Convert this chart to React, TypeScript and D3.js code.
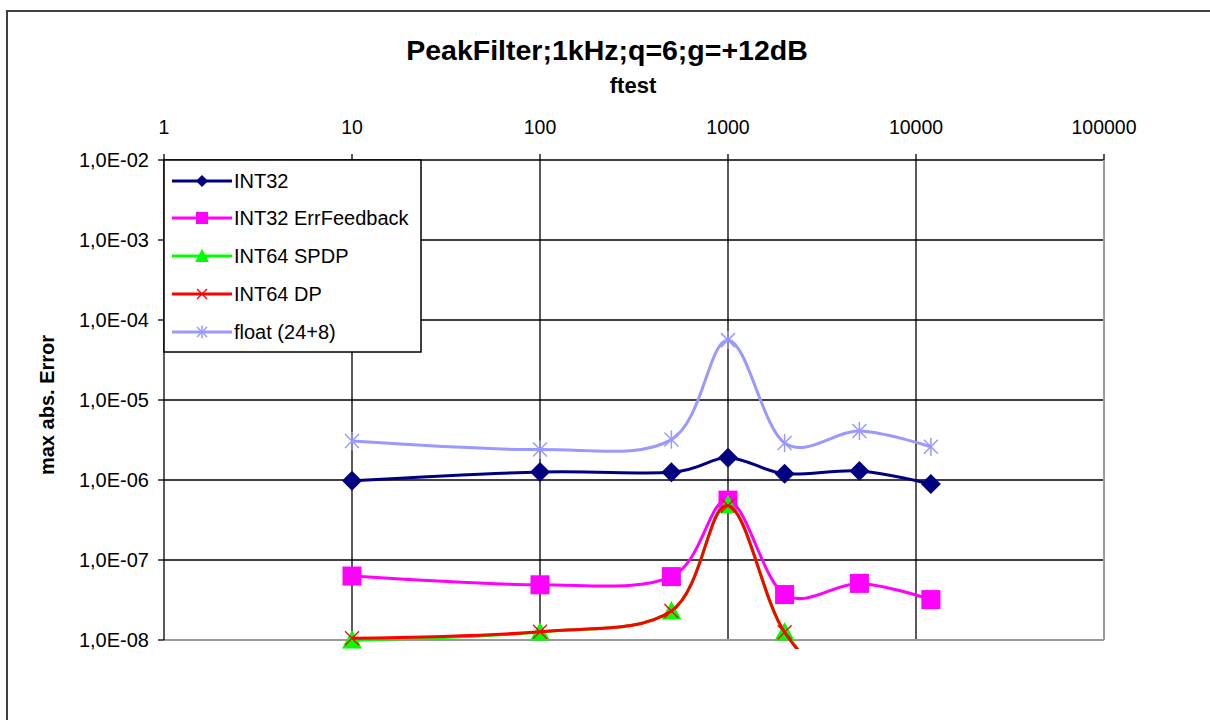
import React from "react";
import * as d3 from "d3";

const ftest = [10, 100, 500, 1000, 2000, 5000, 12000];
const int32 = [0.98e-6, 1.26e-6, 1.25e-6, 1.9e-6, 1.2e-6, 1.3e-6, 0.89e-6];
const int32Err = [6.3e-8, 4.9e-8, 6.2e-8, 5.6e-7, 3.7e-8, 5.1e-8, 3.2e-8];
const int64Spdp = [1.0e-8, 1.26e-8, 2.3e-8, 4.9e-7, 1.26e-8, 2e-9, 2e-9];
const int64Dp = [1.05e-8, 1.27e-8, 2.3e-8, 4.8e-7, 1.25e-8, 1.8e-9, 2e-9];
const float248 = [3.07e-6, 2.4e-6, 3.2e-6, 5.6e-5, 2.9e-6, 4.1e-6, 2.6e-6];

const xTicks = [1, 10, 100, 1000, 10000, 100000];
const xTickLabels = ["1", "10", "100", "1000", "10000", "100000"];
const yTicks = [1e-2, 1e-3, 1e-4, 1e-5, 1e-6, 1e-7, 1e-8];
const yTickLabels = ["1,0E-02", "1,0E-03", "1,0E-04", "1,0E-05", "1,0E-06", "1,0E-07", "1,0E-08"];

const seriesNames = ["INT32", "INT32 ErrFeedback", "INT64 SPDP", "INT64 DP", "float (24+8)"];
const seriesValues = [int32, int32Err, int64Spdp, int64Dp, float248];
const seriesColors = ["#000080", "#FF00FF", "#00FF00", "#FF0000", "#9999FF"];
const seriesMarkers = ["diamond", "square", "triangle", "x", "star"];

const FONT = "'Liberation Sans', Arial, sans-serif";

function Marker({ type, x, y, color, s }: { type: string; x: number; y: number; color: string; s: number }) {
  if (type === "diamond") {
    return <polygon points={`${x},${y - s} ${x + s},${y} ${x},${y + s} ${x - s},${y}`} fill={color} />;
  }
  if (type === "square") {
    return <rect x={x - s} y={y - s} width={2 * s} height={2 * s} fill={color} />;
  }
  if (type === "triangle") {
    return <polygon points={`${x},${y - s} ${x + s},${y + s * 0.85} ${x - s},${y + s * 0.85}`} fill={color} />;
  }
  if (type === "x") {
    return (
      <g stroke={color} strokeWidth={1.3}>
        <line x1={x - s} y1={y - s} x2={x + s} y2={y + s} />
        <line x1={x - s} y1={y + s} x2={x + s} y2={y - s} />
      </g>
    );
  }
  return (
    <g stroke={color} strokeWidth={1.5}>
      <line x1={x - s} y1={y - s} x2={x + s} y2={y + s} />
      <line x1={x - s} y1={y + s} x2={x + s} y2={y - s} />
      <line x1={x} y1={y - s * 1.3} x2={x} y2={y + s * 1.3} />
    </g>
  );
}

export default function App() {
  const W = 1210;
  const H = 720;
  const left = 164, right = 1104, top = 160, bottom = 640;
  const x = d3.scaleLog().domain([1, 100000]).range([left, right]);
  const y = d3.scaleLog().domain([1e-8, 1e-2]).range([bottom, top]);

  const line = d3
    .line<[number, number]>()
    .x((d) => x(d[0]))
    .y((d) => y(d[1]))
    .curve(d3.curveCatmullRom.alpha(0));

  const markerSizes = [10, 9.5, 10, 7, 7];
  const legendMarkerSizes = [6, 6, 7, 5, 5];
  const legendYs = [181, 218, 256, 294, 332];

  return (
    <svg width={W} height={H} style={{ position: "absolute", left: 0, top: 0 }} fontFamily={FONT}>
      <rect x={0} y={0} width={W} height={H} fill="#fff" />
      <defs>
        <clipPath id="plotClip">
          <rect x={left} y={top - 5} width={right - left} height={bottom - top + 14} />
        </clipPath>
      </defs>
      {/* outer frame */}
      <line x1={6} y1={11} x2={W} y2={11} stroke="#404040" strokeWidth={2} />
      <line x1={7} y1={10} x2={7} y2={H} stroke="#404040" strokeWidth={2} />

      {/* title */}
      <text x={607} y={60} textAnchor="middle" fontSize={28.5} fontWeight="bold" fill="#000">
        PeakFilter;1kHz;q=6;g=+12dB
      </text>
      <text x={633} y={93} textAnchor="middle" fontSize={22} fontWeight="bold" fill="#000">
        ftest
      </text>

      {/* grid */}
      {xTicks.slice(1, -1).map((t) => (
        <line key={"gx" + t} x1={x(t)} x2={x(t)} y1={top} y2={bottom} stroke="#000" strokeWidth={1.3} />
      ))}
      {yTicks.slice(0, -1).map((t) => (
        <line key={"gy" + t} x1={left} x2={right} y1={y(t)} y2={y(t)} stroke="#000" strokeWidth={1.3} />
      ))}
      {/* plot border */}
      <line x1={left} x2={right} y1={bottom} y2={bottom} stroke="#999" strokeWidth={2} />
      <line x1={right} x2={right} y1={top} y2={bottom} stroke="#999" strokeWidth={2} />
      <line x1={left} x2={left} y1={top} y2={bottom} stroke="#000" strokeWidth={1.3} />

      {/* x ticks (top) */}
      {xTicks.map((t, i) => (
        <g key={"xt" + t}>
          <line x1={x(t)} x2={x(t)} y1={top} y2={top - 6} stroke="#000" strokeWidth={1.3} />
          <text x={x(t)} y={134} textAnchor="middle" fontSize={19.5} fill="#000">
            {xTickLabels[i]}
          </text>
        </g>
      ))}
      {/* y ticks */}
      {yTicks.map((t, i) => (
        <g key={"yt" + t}>
          <line x1={left - 6} x2={left} y1={y(t)} y2={y(t)} stroke="#000" strokeWidth={1.3} />
          <text x={149} y={y(t) + 7} textAnchor="end" fontSize={20} fill="#000">
            {yTickLabels[i]}
          </text>
        </g>
      ))}
      <text
        transform={`translate(54,405) rotate(-90)`}
        textAnchor="middle"
        fontSize={20}
        fontWeight="bold"
        fill="#000"
      >
        max abs. Error
      </text>

      {/* series */}
      {seriesValues.map((vals, si) => {
        const pts: [number, number][] = ftest.map((f, i) => [f, vals[i]]);
        return (
          <g key={"s" + si}>
            <path
              d={line(pts) || ""}
              fill="none"
              stroke={seriesColors[si]}
              strokeWidth={3}
              clipPath="url(#plotClip)"
            />
            {pts
              .filter((p) => y(p[1]) <= bottom + 3)
              .map((p, i) => (
                <Marker
                  key={i}
                  type={seriesMarkers[si]}
                  x={x(p[0])}
                  y={y(p[1])}
                  color={seriesColors[si]}
                  s={markerSizes[si]}
                />
              ))}
          </g>
        );
      })}

      {/* legend */}
      <rect x={164} y={160} width={257} height={192} fill="#fff" stroke="#000" strokeWidth={1.5} />
      {seriesNames.map((n, i) => (
        <g key={"lg" + i}>
          <line x1={172} x2={232} y1={legendYs[i]} y2={legendYs[i]} stroke={seriesColors[i]} strokeWidth={3} />
          <Marker type={seriesMarkers[i]} x={202} y={legendYs[i]} color={seriesColors[i]} s={legendMarkerSizes[i]} />
          <text x={234} y={legendYs[i] + 7} fontSize={20} fill="#000">
            {n}
          </text>
        </g>
      ))}
    </svg>
  );
}
